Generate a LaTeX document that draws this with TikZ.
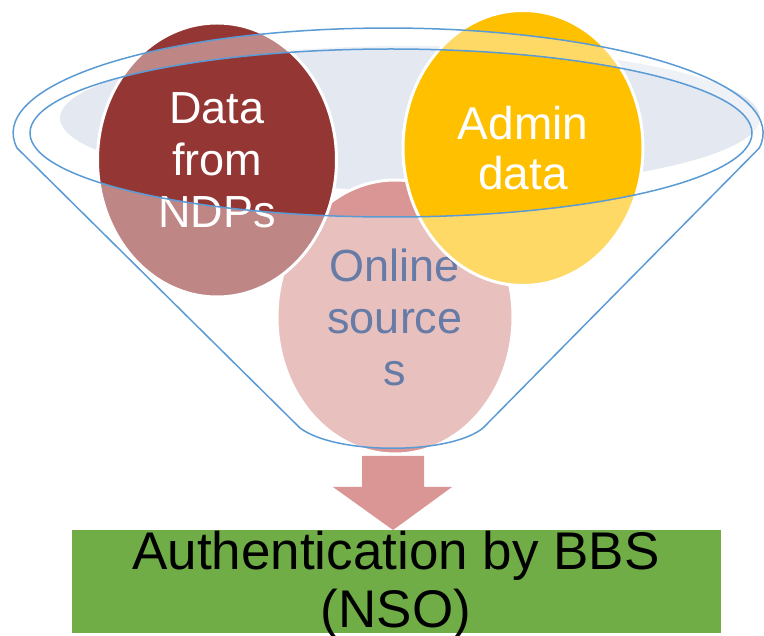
\documentclass[tikz,border=0pt]{standalone}
\usepackage{fontspec}
\setmainfont{Liberation Sans}
\usetikzlibrary{shapes.geometric}
\definecolor{ndpred}{HTML}{943634}
\definecolor{admingold}{HTML}{FFC000}
\definecolor{onlinepink}{HTML}{D99694}
\definecolor{onlinetext}{HTML}{00266B}
\definecolor{rimblue}{HTML}{5B9BD5}
\definecolor{bowlgray}{HTML}{E3E8F1}
\definecolor{boxgreen}{HTML}{70AD47}
\begin{document}
\begin{tikzpicture}[x=1pt,y=-1pt,
    source/.style={ellipse, draw=white, line width=3pt, inner sep=0pt, align=center},
    rim/.style={draw=rimblue, line width=1.5pt}]
      \useasboundingbox (0,0) rectangle (764,636);

      \fill[bowlgray] (410,118) ellipse[x radius=350, y radius=72];

      \node (online) [source, fill=onlinepink, text=onlinetext, minimum width=236pt, minimum height=274pt,
        font=\fontsize{45}{52}\selectfont] at (395,317) {Online\\source\\s};
      \node (ndp) [source, fill=ndpred, text=white, minimum width=239pt, minimum height=274pt,
        font=\fontsize{45}{52}\selectfont] at (217,160) {Data\\from\\NDPs};
      \node (admin) [source, fill=admingold, text=white, minimum width=240pt, minimum height=275pt,
        font=\fontsize{46}{50}\selectfont] at (523,148) {Admin\\data};

      \fill[white, fill opacity=0.4, even odd rule] (300,428) -- (17,148)
        arc[start angle=171.8, end angle=368.2, x radius=375, y radius=105] -- (483,428)
        .. controls (450,455) and (336,455) .. cycle
        (391,133) ellipse[x radius=361, y radius=84];
      \draw[rim] (300,428) -- (17,148)
        arc[start angle=171.8, end angle=368.2, x radius=375, y radius=105] -- (483,428)
        .. controls (450,455) and (336,455) .. cycle;
      \draw[rim] (391,133) ellipse[x radius=361, y radius=84];

      \fill[onlinepink] (362,456) -- (424,456) -- (424,487) -- (452,487) -- (393,530)
        -- (333,487) -- (362,487) -- cycle;

      \node (box) [fill=boxgreen, minimum width=649pt, minimum height=103pt, inner sep=0pt] at (396.5,581.5) {};
      \node (bbs) [align=center, inner sep=0pt, font=\fontsize{53}{58}\selectfont] at (396,585)
        {Authentication by BBS\\(NSO)};
\end{tikzpicture}
\end{document}
